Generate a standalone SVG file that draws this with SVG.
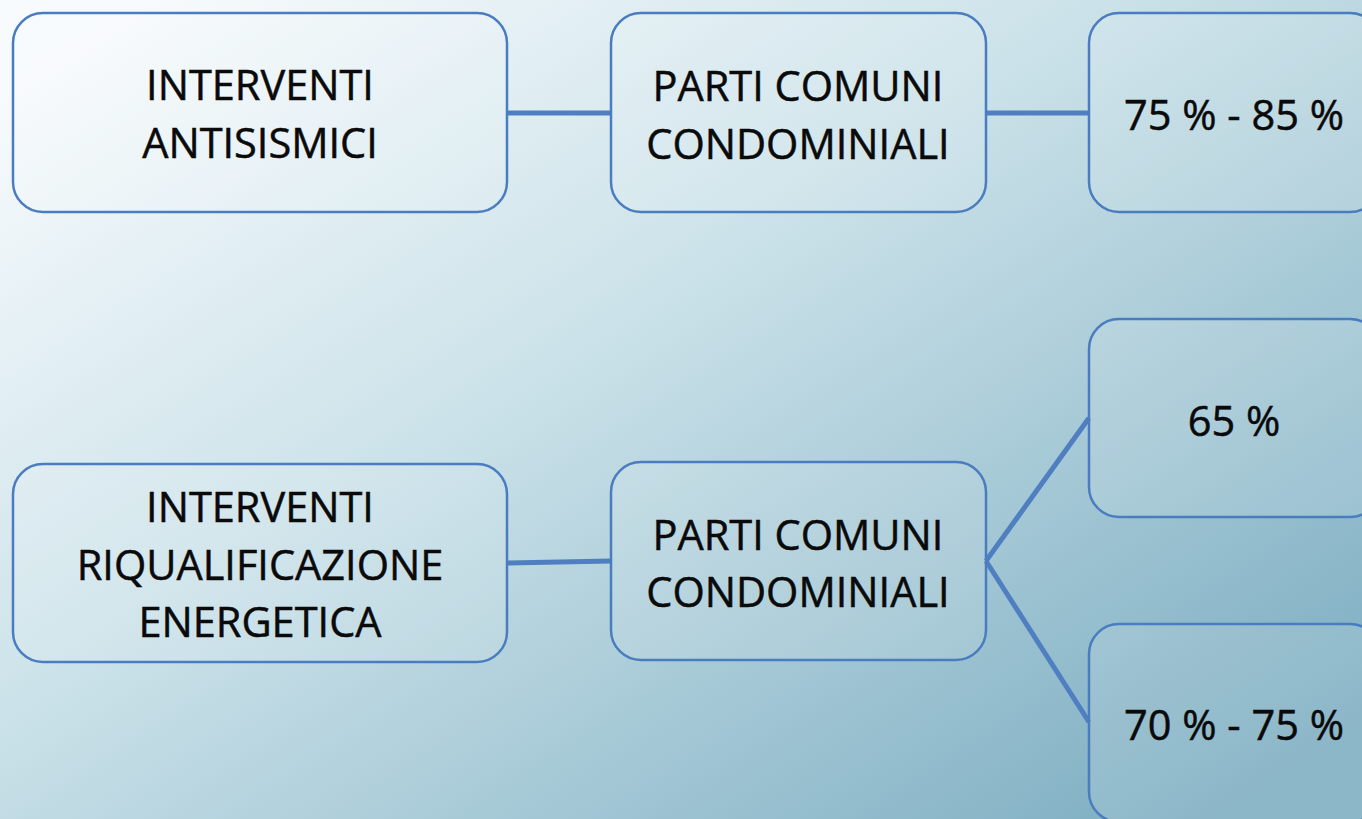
<svg xmlns="http://www.w3.org/2000/svg" width="1362" height="819" viewBox="0 0 1362 819">
<defs>
<linearGradient id="bg" gradientUnits="userSpaceOnUse" x1="250" y1="-80" x2="950" y2="1000">
<stop offset="0" stop-color="#f8fbfd"/>
<stop offset="0.4" stop-color="#cde3ea"/>
<stop offset="1" stop-color="#7cadc1"/>
</linearGradient>
<style>
.box{fill:#ffffff;fill-opacity:0.12;stroke:#4a7dbf;stroke-width:2.5}
.lbl{font-family:"Open Sans","Liberation Sans",sans-serif;font-size:41.5px;fill:#0a0a0a;stroke:#0a0a0a;stroke-width:0.5;text-anchor:middle}
.con line{stroke:#4f7fc1;stroke-width:5;stroke-linecap:butt}
</style>
</defs>
<rect x="0" y="0" width="1362" height="819" fill="url(#bg)"/>
<g class="con" id="connectors">
<line x1="507" y1="113" x2="611" y2="113"/>
<line x1="986" y1="113" x2="1089" y2="113"/>
<line x1="507" y1="563" x2="611" y2="561"/>
<line x1="986" y1="561" x2="1089" y2="418"/>
<line x1="986" y1="561" x2="1089" y2="722"/>
</g>
<g id="n1"><rect class="box" x="13" y="13" width="494" height="199" rx="30"/>
<text class="lbl" x="260" y="100">INTERVENTI</text><text class="lbl" x="260" y="158">ANTISISMICI</text></g>
<g id="n2"><rect class="box" x="611" y="13" width="375" height="199" rx="30"/>
<text class="lbl" x="798" y="101">PARTI COMUNI</text><text class="lbl" x="798" y="159">CONDOMINIALI</text></g>
<g id="n3"><rect class="box" x="1089" y="13" width="291" height="199" rx="30"/>
<text class="lbl" x="1234" y="130">75 % - 85 %</text></g>
<g id="n4"><rect class="box" x="13" y="464" width="494" height="198" rx="30"/>
<text class="lbl" x="260" y="522">INTERVENTI</text><text class="lbl" x="260" y="580">RIQUALIFICAZIONE</text><text class="lbl" x="260" y="637">ENERGETICA</text></g>
<g id="n5"><rect class="box" x="611" y="462" width="375" height="198" rx="30"/>
<text class="lbl" x="798" y="550">PARTI COMUNI</text><text class="lbl" x="798" y="607">CONDOMINIALI</text></g>
<g id="n6"><rect class="box" x="1089" y="319" width="291" height="198" rx="30"/>
<text class="lbl" x="1234" y="436">65 %</text></g>
<g id="n7"><rect class="box" x="1089" y="624" width="291" height="198" rx="30"/>
<text class="lbl" x="1234" y="740">70 % - 75 %</text></g>
</svg>
